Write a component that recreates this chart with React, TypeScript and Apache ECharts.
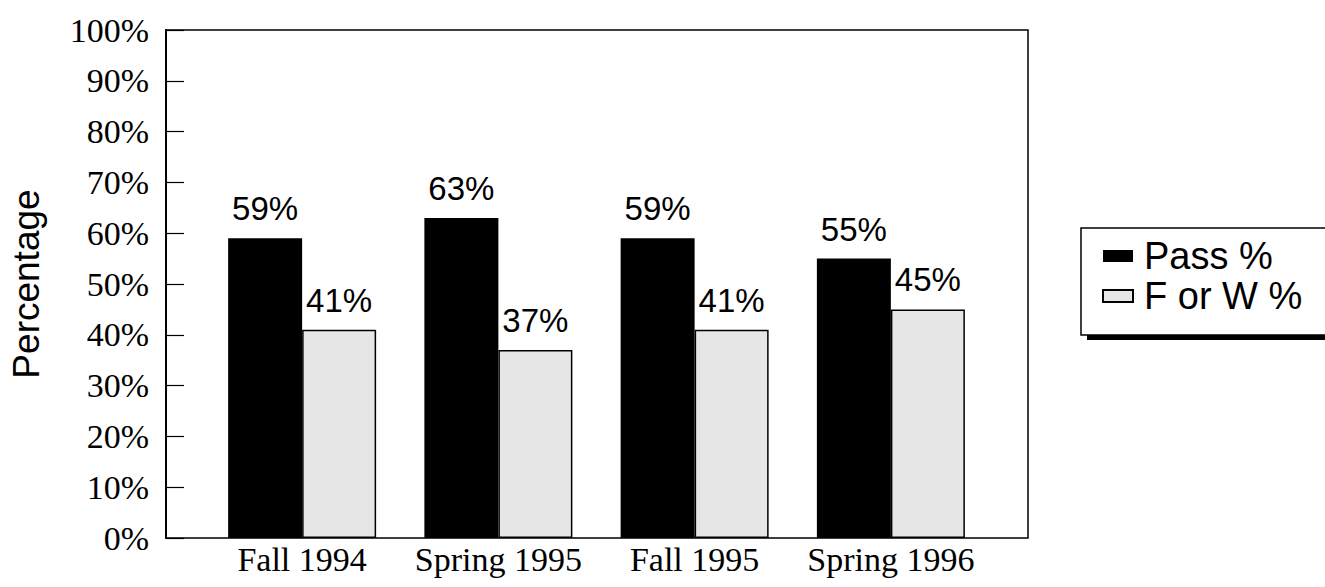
import React, { useEffect, useRef } from "react";
import * as echarts from "echarts";

const categories = ["Fall 1994", "Spring 1995", "Fall 1995", "Spring 1996"];
const passValues = [59, 63, 59, 55];
const failValues = [41, 37, 41, 45];
const seriesNames = ["Pass %", "F or W %"];
const yTicks = [0, 10, 20, 30, 40, 50, 60, 70, 80, 90, 100];

export default function App() {
  const ref = useRef<HTMLDivElement>(null);
  useEffect(() => {
    if (!ref.current) return;
    const chart = echarts.init(ref.current, undefined, { renderer: "svg" });
    const serif = "'Liberation Serif', 'Times New Roman', serif";
    const sans = "'Liberation Sans', Arial, sans-serif";
    chart.setOption({
      animation: false,
      backgroundColor: "#fff",
      grid: [
        { left: 165, top: 30, width: 863, height: 508, show: true, borderColor: "#000", borderWidth: 1.5, backgroundColor: "transparent" },
        { left: 204, top: 30, width: 785, height: 508, show: false },
      ],
      xAxis: [
        { type: "category", gridIndex: 0, data: [""], show: false },
        {
          type: "category",
          gridIndex: 1,
          data: categories,
          axisLine: { show: false },
          axisTick: { show: false },
          axisLabel: { color: "#000", fontFamily: serif, fontSize: 34, margin: 4, interval: 0 },
        },
      ],
      yAxis: [
        {
          type: "value",
          gridIndex: 0,
          min: yTicks[0],
          max: yTicks[yTicks.length - 1],
          interval: 10,
          name: "Percentage",
          nameLocation: "middle",
          nameRotate: 90,
          nameGap: 121,
          nameTextStyle: { color: "#000", fontFamily: sans, fontSize: 37 },
          axisLine: { show: true, lineStyle: { color: "#000", width: 2 } },
          axisTick: { show: true, inside: true, length: 18, lineStyle: { color: "#000", width: 1.2 } },
          axisLabel: { color: "#000", fontFamily: serif, fontSize: 34, margin: 17, formatter: "{value}%" },
          splitLine: { show: false },
        },
        { type: "value", gridIndex: 1, min: 0, max: 100, show: false, splitLine: { show: false } },
      ],
      legend: {
        orient: "vertical",
        left: 1097,
        top: 232,
        icon: "rect",
        itemWidth: 30,
        itemHeight: 12,
        itemGap: 2,
        textStyle: { color: "#000", fontFamily: sans, fontSize: 38, padding: [0, 0, 0, 6] },
        data: seriesNames,
      },
      graphic: [
        { type: "rect", shape: { x: 1087, y: 335, width: 240, height: 5 }, style: { fill: "#000" }, z: 1 },
        { type: "rect", shape: { x: 1081, y: 228, width: 260, height: 107 }, style: { fill: "#fff", stroke: "#000", lineWidth: 1.5 }, z: 2 },
      ],
      series: [
        {
          name: seriesNames[0],
          type: "bar",
          xAxisIndex: 1,
          yAxisIndex: 1,
          data: passValues,
          barWidth: 74,
          barGap: "0%",
          itemStyle: { color: "#000" },
          label: { show: true, position: "top", distance: 13, color: "#000", fontFamily: sans, fontSize: 33, formatter: "{c}%" },
          z: 3,
        },
        {
          name: seriesNames[1],
          type: "bar",
          xAxisIndex: 1,
          yAxisIndex: 1,
          data: failValues,
          barWidth: 74,
          barGap: "0%",
          itemStyle: { color: "#e6e6e6", borderColor: "#000", borderWidth: 1.5 },
          label: { show: true, position: "top", distance: 13, color: "#000", fontFamily: sans, fontSize: 33, formatter: "{c}%" },
          z: 3,
        },
      ],
    });
    return () => chart.dispose();
  }, []);
  return <div ref={ref} style={{ position: "absolute", left: 0, top: 0, width: 1325, height: 587 }} />;
}
